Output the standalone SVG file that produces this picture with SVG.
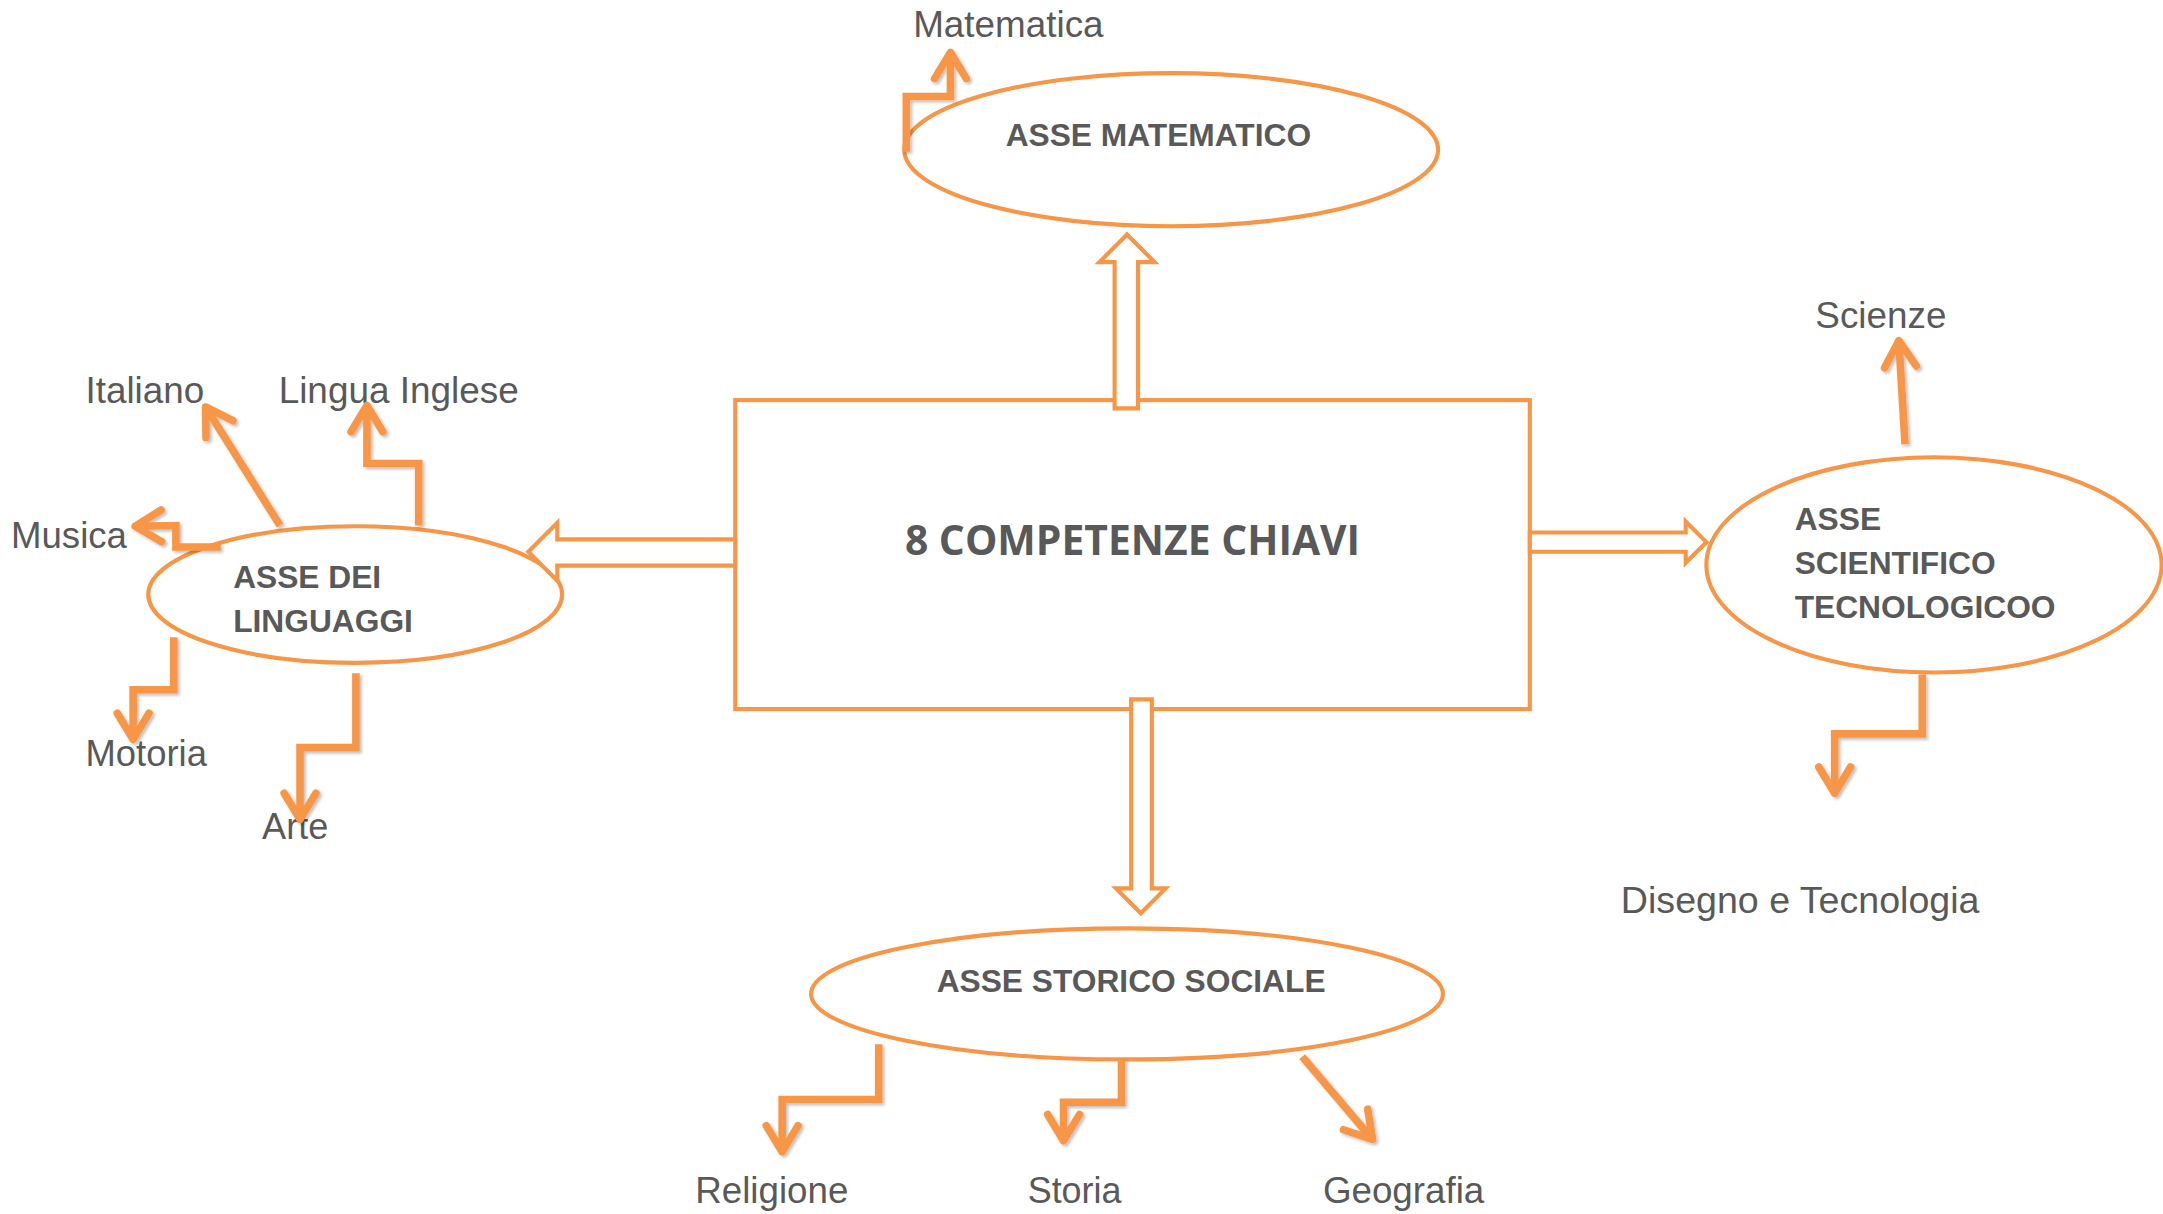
<svg xmlns="http://www.w3.org/2000/svg" width="2163" height="1214" viewBox="0 0 2163 1214">
<style>
.shape{fill:#FFFFFF;stroke:#F79646;stroke-width:3}
.blk{fill:#FFFFFF;stroke:#F79646;stroke-width:3;stroke-linejoin:miter}
.ln{fill:none;stroke:#F79646;stroke-width:5.5;stroke-linejoin:miter;stroke-linecap:butt}
.lbl{font-family:"Liberation Sans",Arial,sans-serif;font-size:26.5px;fill:#595959}
.bold{font-family:"Liberation Sans",Arial,sans-serif;font-size:23px;font-weight:bold;fill:#595959}
.title{font-family:"Open Sans","Liberation Sans",sans-serif;font-size:30px;font-weight:bold;fill:#595959}
</style>
<defs>
<marker id="chev" markerUnits="userSpaceOnUse" viewBox="-26 -16 32 32" markerWidth="32" markerHeight="32" refX="0" refY="0" orient="auto" overflow="visible">
<path d="M -19 -11.5 L 0 0 L -19 11.5" fill="none" stroke="#F79646" stroke-width="5.5" stroke-linecap="round" stroke-linejoin="round"/>
</marker>
<filter id="sh" x="-20%" y="-20%" width="140%" height="140%">
<feDropShadow dx="1.5" dy="1.5" stdDeviation="1.2" flood-color="#000000" flood-opacity="0.25"/>
</filter>
</defs>
<rect width="2163" height="1214" fill="#FFFFFF"/>
<g transform="scale(1.37946)">
<g id="node-center">
<rect class="shape" x="533" y="290" width="576" height="224"/>
<text class="title" x="656" y="402" textLength="330" lengthAdjust="spacingAndGlyphs">8 COMPETENZE CHIAVI</text>
</g>
<g id="node-matematico">
<ellipse class="shape" cx="849" cy="108.5" rx="193.5" ry="55.5"/>
<text class="bold" x="729" y="106">ASSE MATEMATICO</text>
</g>
<g id="node-linguaggi">
<ellipse class="shape" cx="257.5" cy="431" rx="150" ry="49.5"/>
<text class="bold" x="169" y="426">ASSE DEI</text>
<text class="bold" x="169" y="458">LINGUAGGI</text>
</g>
<g id="node-scientifico">
<ellipse class="shape" cx="1402" cy="409.5" rx="165" ry="78"/>
<text class="bold" x="1301" y="384">ASSE</text>
<text class="bold" x="1301" y="416">SCIENTIFICO</text>
<text class="bold" x="1301" y="448">TECNOLOGICOO</text>
</g>
<g id="node-storico">
<ellipse class="shape" cx="817" cy="720.5" rx="229" ry="47.5"/>
<text class="bold" x="679" y="719">ASSE STORICO SOCIALE</text>
</g>
<g id="labels">
<text class="lbl" x="662" y="27" textLength="138" lengthAdjust="spacingAndGlyphs">Matematica</text>
<text class="lbl" x="62" y="292" textLength="86" lengthAdjust="spacingAndGlyphs">Italiano</text>
<text class="lbl" x="202" y="292" textLength="174" lengthAdjust="spacingAndGlyphs">Lingua Inglese</text>
<text class="lbl" x="8" y="397" textLength="84" lengthAdjust="spacingAndGlyphs">Musica</text>
<text class="lbl" x="62" y="555" textLength="88" lengthAdjust="spacingAndGlyphs">Motoria</text>
<text class="lbl" x="190" y="608" textLength="48" lengthAdjust="spacingAndGlyphs">Arte</text>
<text class="lbl" x="1316" y="238" textLength="95" lengthAdjust="spacingAndGlyphs">Scienze</text>
<text class="lbl" x="1175" y="662" textLength="260" lengthAdjust="spacingAndGlyphs">Disegno e Tecnologia</text>
<text class="lbl" x="504" y="872" textLength="111" lengthAdjust="spacingAndGlyphs">Religione</text>
<text class="lbl" x="745" y="872" textLength="68" lengthAdjust="spacingAndGlyphs">Storia</text>
<text class="lbl" x="959" y="872" textLength="117" lengthAdjust="spacingAndGlyphs">Geografia</text>
</g>
<g id="connectors">
<polygon class="blk" points="808,296 825,296 825,190 837,190 817,170 797,190 808,190"/>
<polygon class="blk" points="533,391 404,391 404,379 383,400 404,421 404,410 533,410"/>
<polygon class="blk" points="1109,386 1222,386 1222,378 1237,393 1222,408 1222,400 1109,400"/>
<polygon class="blk" points="820,507 835,507 835,644 845,644 827,662 809,644 820,644"/>
<g filter="url(#sh)">
<path class="ln" marker-end="url(#chev)" d="M 657 110 V 70 H 689 V 38"/>
<path class="ln" marker-end="url(#chev)" d="M 203 381 L 149 295"/>
<path class="ln" marker-end="url(#chev)" d="M 303.5 381 V 336 H 266 V 294"/>
<path class="ln" marker-end="url(#chev)" d="M 160 396.5 H 127.5 V 381 L 98 381.5"/>
<path class="ln" marker-end="url(#chev)" d="M 126 462 V 500 H 96.5 V 536"/>
<path class="ln" marker-end="url(#chev)" d="M 258 488 V 542 H 217.5 V 594"/>
<path class="ln" marker-end="url(#chev)" d="M 1381 322 L 1376.5 247"/>
<path class="ln" marker-end="url(#chev)" d="M 1393.5 489 V 532 H 1330 V 575"/>
<path class="ln" marker-end="url(#chev)" d="M 637 757 V 797 H 567 V 835"/>
<path class="ln" marker-end="url(#chev)" d="M 813 768 V 799 H 771 V 827"/>
<path class="ln" marker-end="url(#chev)" d="M 944 766 L 995 826"/>
</g>
</g>
</g>
</svg>
